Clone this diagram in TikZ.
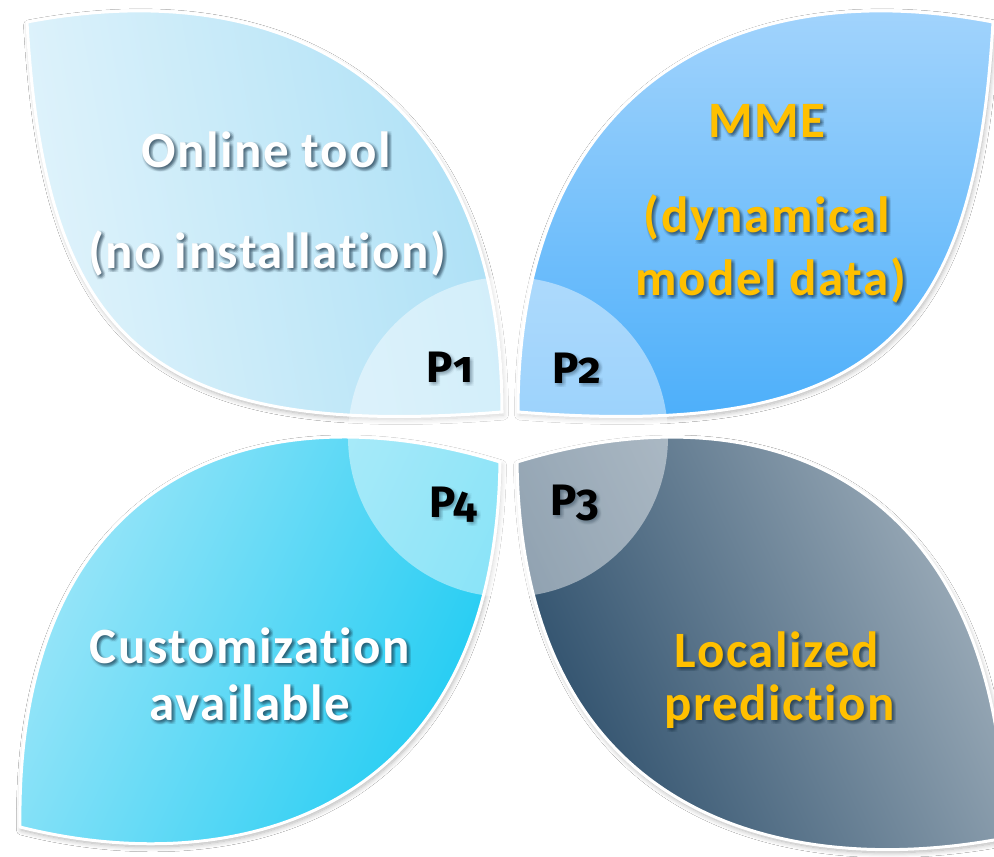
\documentclass[tikz,border=0pt]{standalone}
\usepackage{fontspec}
\setmainfont{Carlito}
\newfontfamily\lblfont[LetterSpace=3,Ligatures={NoCommon,NoContextual}]{Carlito}
\newfontfamily\pfont[Numbers=OldStyle]{Fira Sans}
\usetikzlibrary{shadows.blur}

\definecolor{gold}{HTML}{FFC000}
\definecolor{shadowc}{HTML}{1A3346}
\definecolor{tlA}{HTML}{E0F3FB}
\definecolor{tlB}{HTML}{ACE0F6}
\definecolor{trA}{HTML}{AAD7FC}
\definecolor{trB}{HTML}{48ADFA}
\definecolor{blA}{HTML}{A2E7F9}
\definecolor{blB}{HTML}{1CCBF2}
\definecolor{brA}{HTML}{2A4C69}
\definecolor{brB}{HTML}{A3B2BE}

\pgfdeclarehorizontalshading{tlshade}{100bp}{color(0bp)=(tlA); color(25bp)=(tlA); color(75bp)=(tlB); color(100bp)=(tlB)}
\pgfdeclarehorizontalshading{blshade}{100bp}{color(0bp)=(blA); color(25bp)=(blA); color(75bp)=(blB); color(100bp)=(blB)}
\pgfdeclarehorizontalshading{brshade}{100bp}{color(0bp)=(brA); color(25bp)=(brA); color(75bp)=(brB); color(100bp)=(brB)}

\newcommand\petalTL{(27,22) .. controls (300,-30) and (502,100) .. (502,412) .. controls (150,440) and (45,340) .. (27,22) -- cycle}
\newcommand\petalTR{(993,22) .. controls (720,-30) and (518,100) .. (518,412) .. controls (870,440) and (975,340) .. (993,22) -- cycle}
\newcommand\petalBL{(20,827) .. controls (15,480) and (250,385) .. (500,462) .. controls (495,820) and (230,880) .. (20,827) -- cycle}
\newcommand\petalBR{(517,462) .. controls (767,385) and (1003,480) .. (1005,838) .. controls (787,880) and (522,820) .. (517,462) -- cycle}

% name, x, y, font style, colour, shadow opacity, text
\newcommand\tlabel[7]{%
  \foreach \dx/\dy [count=\k] in {0/0,2/0,4/0,0/2,2/2,4/2,0/4,2/4,4/4,1/1,3/3,1/3,3/1}{
    \node[#4, text=shadowc, text opacity=#6, name=#1s\k] at ({#2+\dx},{#3+\dy}) {#7};
  }
  \node[#4, text=#5, name=#1] at (#2,#3) {#7};
}

\tikzset{
  petalborder/.style={draw=white, line width=3pt},
  pshadow/.style={blur shadow={shadow blur steps=10, shadow xshift=1.5pt, shadow yshift=-3pt, shadow opacity=30, shadow blur radius=5pt}},
  bigtxt/.style={font=\lblfont\bfseries\fontsize{51}{60}\selectfont, anchor=base, inner sep=0pt},
  ptxt/.style={font=\pfont\bfseries\fontsize{44}{52}\selectfont, anchor=base, inner sep=0pt},
}

\begin{document}
\begin{tikzpicture}[x=1pt,y=-1pt]
\useasboundingbox (0,0) rectangle (994,857);
\clip (0,0) rectangle (994,857);
\fill[white] (0,0) rectangle (994,857);

\path[pshadow, shade, shading=tlshade, shading angle=10] \petalTL;
\path[pshadow, top color=trA, bottom color=trB] \petalTR;
\path[pshadow, shade, shading=blshade, shading angle=-25] \petalBL;
\path[pshadow, shade, shading=brshade, shading angle=25] \petalBR;

\node[circle, minimum size=320pt, inner sep=0pt, fill=white, fill opacity=0.45] (hub) at (508,437) {};

\draw[petalborder] \petalTL;
\draw[petalborder] \petalTR;
\draw[petalborder] \petalBL;
\draw[petalborder] \petalBR;

\tlabel{online}{266}{167}{bigtxt}{white}{0.09}{Online tool}
\tlabel{noinst}{267}{268}{bigtxt}{white}{0.09}{(no installation)}
\tlabel{mme}{767}{137}{bigtxt}{gold}{0.09}{MME}
\tlabel{dyn}{767}{232}{bigtxt}{gold}{0.09}{(dynamical}
\tlabel{model}{771}{295}{bigtxt}{gold}{0.09}{model data)}
\tlabel{custom}{250}{663}{bigtxt}{white}{0.09}{Customization}
\tlabel{avail}{250}{720}{bigtxt}{white}{0.09}{available}
\tlabel{local}{777}{667}{bigtxt}{gold}{0.09}{Localized}
\tlabel{pred}{780}{720}{bigtxt}{gold}{0.09}{prediction}

\tlabel{pone}{450}{382}{ptxt}{black}{0.04}{P1}
\tlabel{ptwo}{577}{383}{ptxt}{black}{0.04}{P2}
\tlabel{pfour}{453}{517}{ptxt}{black}{0.04}{P4}
\tlabel{pthree}{575}{515}{ptxt}{black}{0.04}{P3}
\end{tikzpicture}
\end{document}
